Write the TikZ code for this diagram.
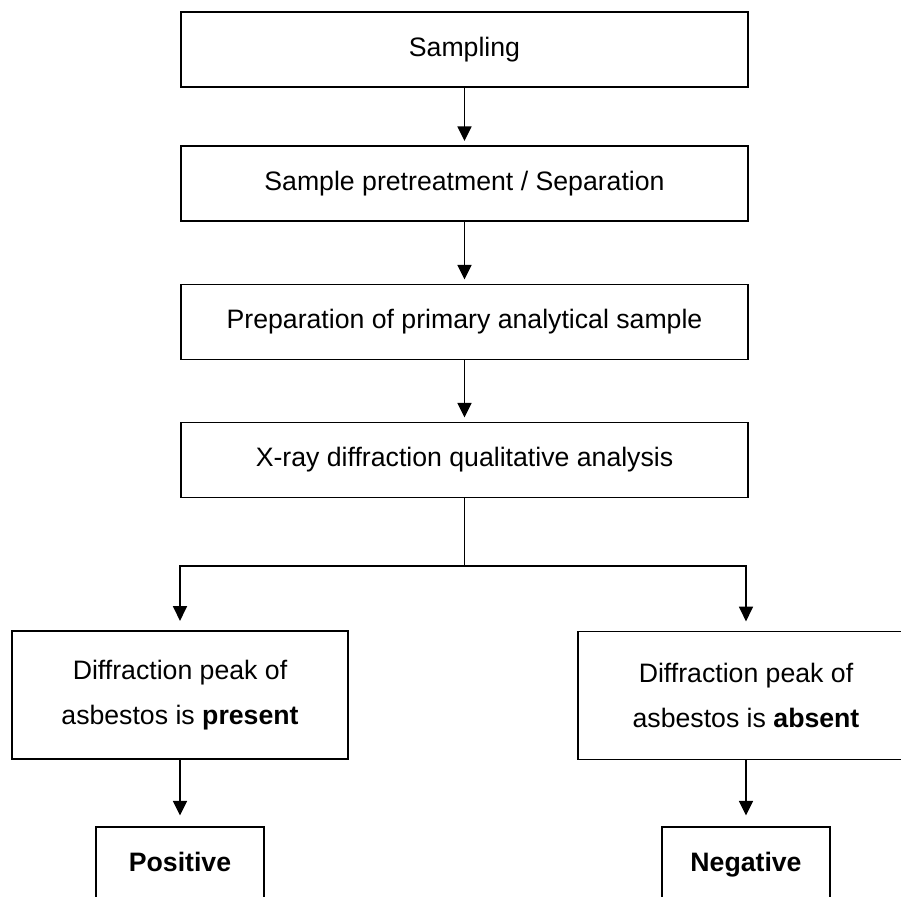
\documentclass[tikz,border=0pt]{standalone}
\usepackage{fontspec}
\setmainfont{Liberation Sans}
\usetikzlibrary{arrows.meta}
\begin{document}
\begin{tikzpicture}[x=0.75pt,y=-0.75pt,line width=1.2pt,>={Triangle[width=10.5pt,length=11pt]},
	font=\fontsize{20}{33.75}\selectfont,
	box/.style={draw,inner sep=0pt,align=center,minimum width=425.25pt,minimum height=56.5pt},
	result/.style={draw,inner sep=0pt,align=center,minimum width=252pt,minimum height=96pt},
	verdict/.style={draw,inner sep=0pt,align=center,minimum width=126pt,minimum height=57pt,
		text height=14.5pt,text depth=4.5pt,font=\fontsize{20}{24}\selectfont\bfseries}]
		\useasboundingbox (0,0) rectangle (901,897);
		\clip (0,0) rectangle (901,897);
		\node[box] (samp) at (464.5,49.5){Sampling};
		\node[box] (pretr) at (464.5,183.5){Sample pretreatment / Separation};
		\node[box] (prep) at (464.5,322){Preparation of primary analytical sample};
		\node[box] (xrd) at (464.5,460){X-ray diffraction qualitative analysis};
		\node[result] (present) at (180,695){Diffraction peak of\\asbestos is \textbf{present}};
		\node[result] (absent) at (746,695.5){Diffraction peak of\\asbestos is \textbf{absent}};
		\node[verdict] (pos) at (180,865){Positive};
		\node[verdict] (neg) at (746,865){Negative};
		\coordinate (split) at (464.5,566);
		\draw[->,shorten >=3pt] (samp)--(pretr);
		\draw[->,shorten >=3pt] (pretr)--(prep);
		\draw[->,shorten >=3pt] (prep)--(xrd);
		\draw (xrd)--(split);
		\draw[->,shorten >=7pt] (split)-|(present);
		\draw[->,shorten >=7pt] (split)-|(absent);
		\draw[->,shorten >=8pt] (present)--(pos);
		\draw[->,shorten >=8pt] (absent)--(neg);
		\end{tikzpicture}
\end{document}
